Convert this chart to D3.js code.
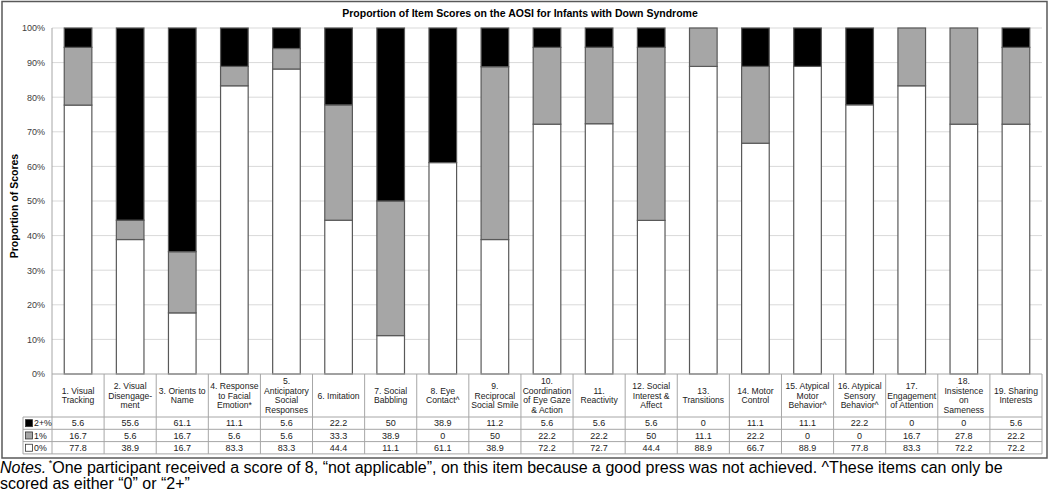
<!DOCTYPE html>
<html>
<head>
<meta charset="utf-8">
<script src="https://cdn.jsdelivr.net/npm/d3@7"></script>
<style>
  body{margin:0;background:#fff;}
  svg{font-family:"Liberation Sans",Arial,sans-serif;}
</style>
</head>
<body>
<svg class="chart"></svg>
<script>
var items=["1. Visual|Tracking","2. Visual|Disengage-|ment","3. Orients to|Name",
  "4. Response|to Facial|Emotion*","5.|Anticipatory|Social|Responses","6. Imitation",
  "7. Social|Babbling","8. Eye|Contact^","9.|Reciprocal|Social Smile",
  "10.|Coordination|of Eye Gaze|& Action","11.|Reactivity","12. Social|Interest &|Affect",
  "13.|Transitions","14. Motor|Control","15. Atypical|Motor|Behavior^",
  "16. Atypical|Sensory|Behavior^","17.|Engagement|of Attention","18.|Insistence|on|Sameness",
  "19. Sharing|Interests"];
var zero=[77.8,38.9,16.7,83.3,83.3,44.4,11.1,61.1,38.9,72.2,72.7,44.4,88.9,66.7,88.9,77.8,83.3,72.2,72.2];
var one=[16.7,5.6,16.7,5.6,5.6,33.3,38.9,0,50,22.2,22.2,50,11.1,22.2,0,0,16.7,27.8,22.2];
var two=[5.6,55.6,61.1,11.1,5.6,22.2,50,38.9,11.2,5.6,5.6,5.6,0,11.1,11.1,22.2,0,0,5.6];
var seriesNames=["0%","1%","2+%"];
var seriesColors=["#ffffff","#a6a6a6","#000000"];
var yTicks=[0,10,20,30,40,50,60,70,80,90,100];

var width=1050,height=491;
var plot={left:52,right:1042,top:28,bottom:374};

var svg=d3.select("svg.chart").attr("width",width).attr("height",height);

// outer frame
svg.append("rect")
   .attr("x",2).attr("y",1.5).attr("width",1045).attr("height",456.5)
   .attr("fill","#fff").attr("stroke","#595959").attr("stroke-width",1.5);

svg.append("text")
   .attr("x",520).attr("y",17)
   .attr("text-anchor","middle")
   .attr("font-size",10.5).attr("font-weight","bold")
   .text("Proportion of Item Scores on the AOSI for Infants with Down Syndrome");

// 100% stacked, so the scale runs 0..1
var yScale=d3.scaleLinear().domain([0,1]).range([plot.bottom,plot.top]);
var cell=d3.scaleBand().domain(items).range([plot.left,plot.right]);
var xScale=d3.scaleBand().domain(items).range([plot.left,plot.right]).paddingInner(0.47).paddingOuter(0.235);

// grid
svg.append("g").selectAll("line")
   .data(yTicks.slice(1))
   .enter().append("line")
   .attr("x1",plot.left).attr("x2",plot.right)
   .attr("y1",function(d){return yScale(d/100);})
   .attr("y2",function(d){return yScale(d/100);})
   .attr("stroke","#d9d9d9").attr("stroke-width",1);

var yAxis=d3.axisLeft(yScale).tickValues(yTicks.map(function(d){return d/100;}))
            .tickSize(0).tickPadding(7)
            .tickFormat(function(d){return Math.round(d*100)+"%";});
var yg=svg.append("g").attr("transform","translate("+plot.left+",0)").call(yAxis);
yg.select(".domain").remove();
yg.selectAll("text").attr("font-size",9).attr("fill","#404040")
  .attr("font-family","Liberation Sans,Arial,sans-serif");

svg.append("line")
   .attr("x1",plot.left).attr("x2",plot.left)
   .attr("y1",plot.top).attr("y2",plot.bottom)
   .attr("stroke","#a6a6a6");

svg.append("text")
   .attr("transform","translate(18,206) rotate(-90)")
   .attr("text-anchor","middle")
   .attr("font-size",10.5).attr("font-weight","bold")
   .text("Proportion of Scores");

// stacked bars
var rows=items.map(function(d,i){
  return {item:d,zero:zero[i],one:one[i],two:two[i]};
});
var stack=d3.stack().keys(["zero","one","two"]).offset(d3.stackOffsetExpand);
var layers=stack(rows);

svg.append("g").selectAll("g")
   .data(layers)
   .enter().append("g")
   .attr("fill",function(d,i){return seriesColors[i];})
   .selectAll("rect")
   .data(function(d){return d;})
   .enter().append("rect")
   .attr("x",function(d){return xScale(d.data.item);})
   .attr("width",xScale.bandwidth())
   .attr("y",function(d){return yScale(d[1]);})
   .attr("height",function(d){return yScale(d[0])-yScale(d[1]);})
   .attr("stroke",function(d){return d[1]-d[0]>0 ? "#595959" : "none";})
   .attr("stroke-width",1.2);

// x axis line
svg.append("line")
   .attr("x1",plot.left).attr("x2",plot.right)
   .attr("y1",plot.bottom).attr("y2",plot.bottom)
   .attr("stroke","#a6a6a6");

// data table
var headTop=plot.bottom,headBot=417,rowH=12.3;
var tbl=svg.append("g");
var lineColor="#a6a6a6";

[headBot,headBot+rowH,headBot+2*rowH,headBot+3*rowH].forEach(function(y){
  tbl.append("line").attr("x1",23).attr("x2",plot.right)
     .attr("y1",y).attr("y2",y).attr("stroke",lineColor);
});
tbl.append("line").attr("x1",23).attr("x2",23)
   .attr("y1",headBot).attr("y2",headBot+3*rowH).attr("stroke",lineColor);
d3.range(items.length+1).forEach(function(i){
  var x=plot.left+i*cell.step();
  tbl.append("line").attr("x1",x).attr("x2",x)
     .attr("y1",headTop).attr("y2",headBot+3*rowH).attr("stroke",lineColor);
});

// header labels
var heads=tbl.selectAll("text.head")
   .data(items)
   .enter().append("text")
   .attr("class","head")
   .attr("text-anchor","middle")
   .attr("font-size",8.6).attr("fill","#222");
heads.each(function(d){
  var parts=d.split("|");
  var cx=cell(d)+cell.bandwidth()/2;
  var mid=(headTop+headBot)/2;
  var lh=9.6;
  var y0=mid-(parts.length-1)*lh/2+3;
  var t=d3.select(this);
  parts.forEach(function(p,j){
    t.append("tspan").attr("x",cx).attr("y",y0+j*lh).text(p);
  });
});

// value rows, top row is 2+%
var tableRows=[
  {name:seriesNames[2],color:seriesColors[2],vals:two},
  {name:seriesNames[1],color:seriesColors[1],vals:one},
  {name:seriesNames[0],color:seriesColors[0],vals:zero}
];
tableRows.forEach(function(r,k){
  var yc=headBot+k*rowH+rowH/2;
  tbl.append("rect").attr("x",25.5).attr("y",yc-3.5).attr("width",7).attr("height",7)
     .attr("fill",r.color).attr("stroke","#333").attr("stroke-width",0.8);
  tbl.append("text").attr("x",34).attr("y",yc+3.2)
     .attr("font-size",8.8).attr("fill","#222").text(r.name);
  tbl.selectAll("text.v"+k)
     .data(r.vals)
     .enter().append("text")
     .attr("class","v"+k)
     .attr("x",function(d,i){return cell(items[i])+cell.bandwidth()/2;})
     .attr("y",yc+3.2)
     .attr("text-anchor","middle")
     .attr("font-size",9).attr("fill","#222")
     .text(function(d){return String(d);});
});

// notes
var n1=svg.append("text").attr("x",0).attr("y",473).attr("font-size",16).attr("fill","#000");
n1.append("tspan").attr("font-style","italic").text("Notes.");
n1.append("tspan").attr("font-size",9).attr("dy",-7).text(" *");
n1.append("tspan").attr("dy",7).text("One participant received a score of 8, \u201cnot applicable\u201d, on this item because a good press was not achieved. ^These items can only be");
svg.append("text").attr("x",0).attr("y",489).attr("font-size",16).attr("fill","#000")
   .text("scored as either \u201c0\u201d or \u201c2+\u201d");
</script>
</body>
</html>
